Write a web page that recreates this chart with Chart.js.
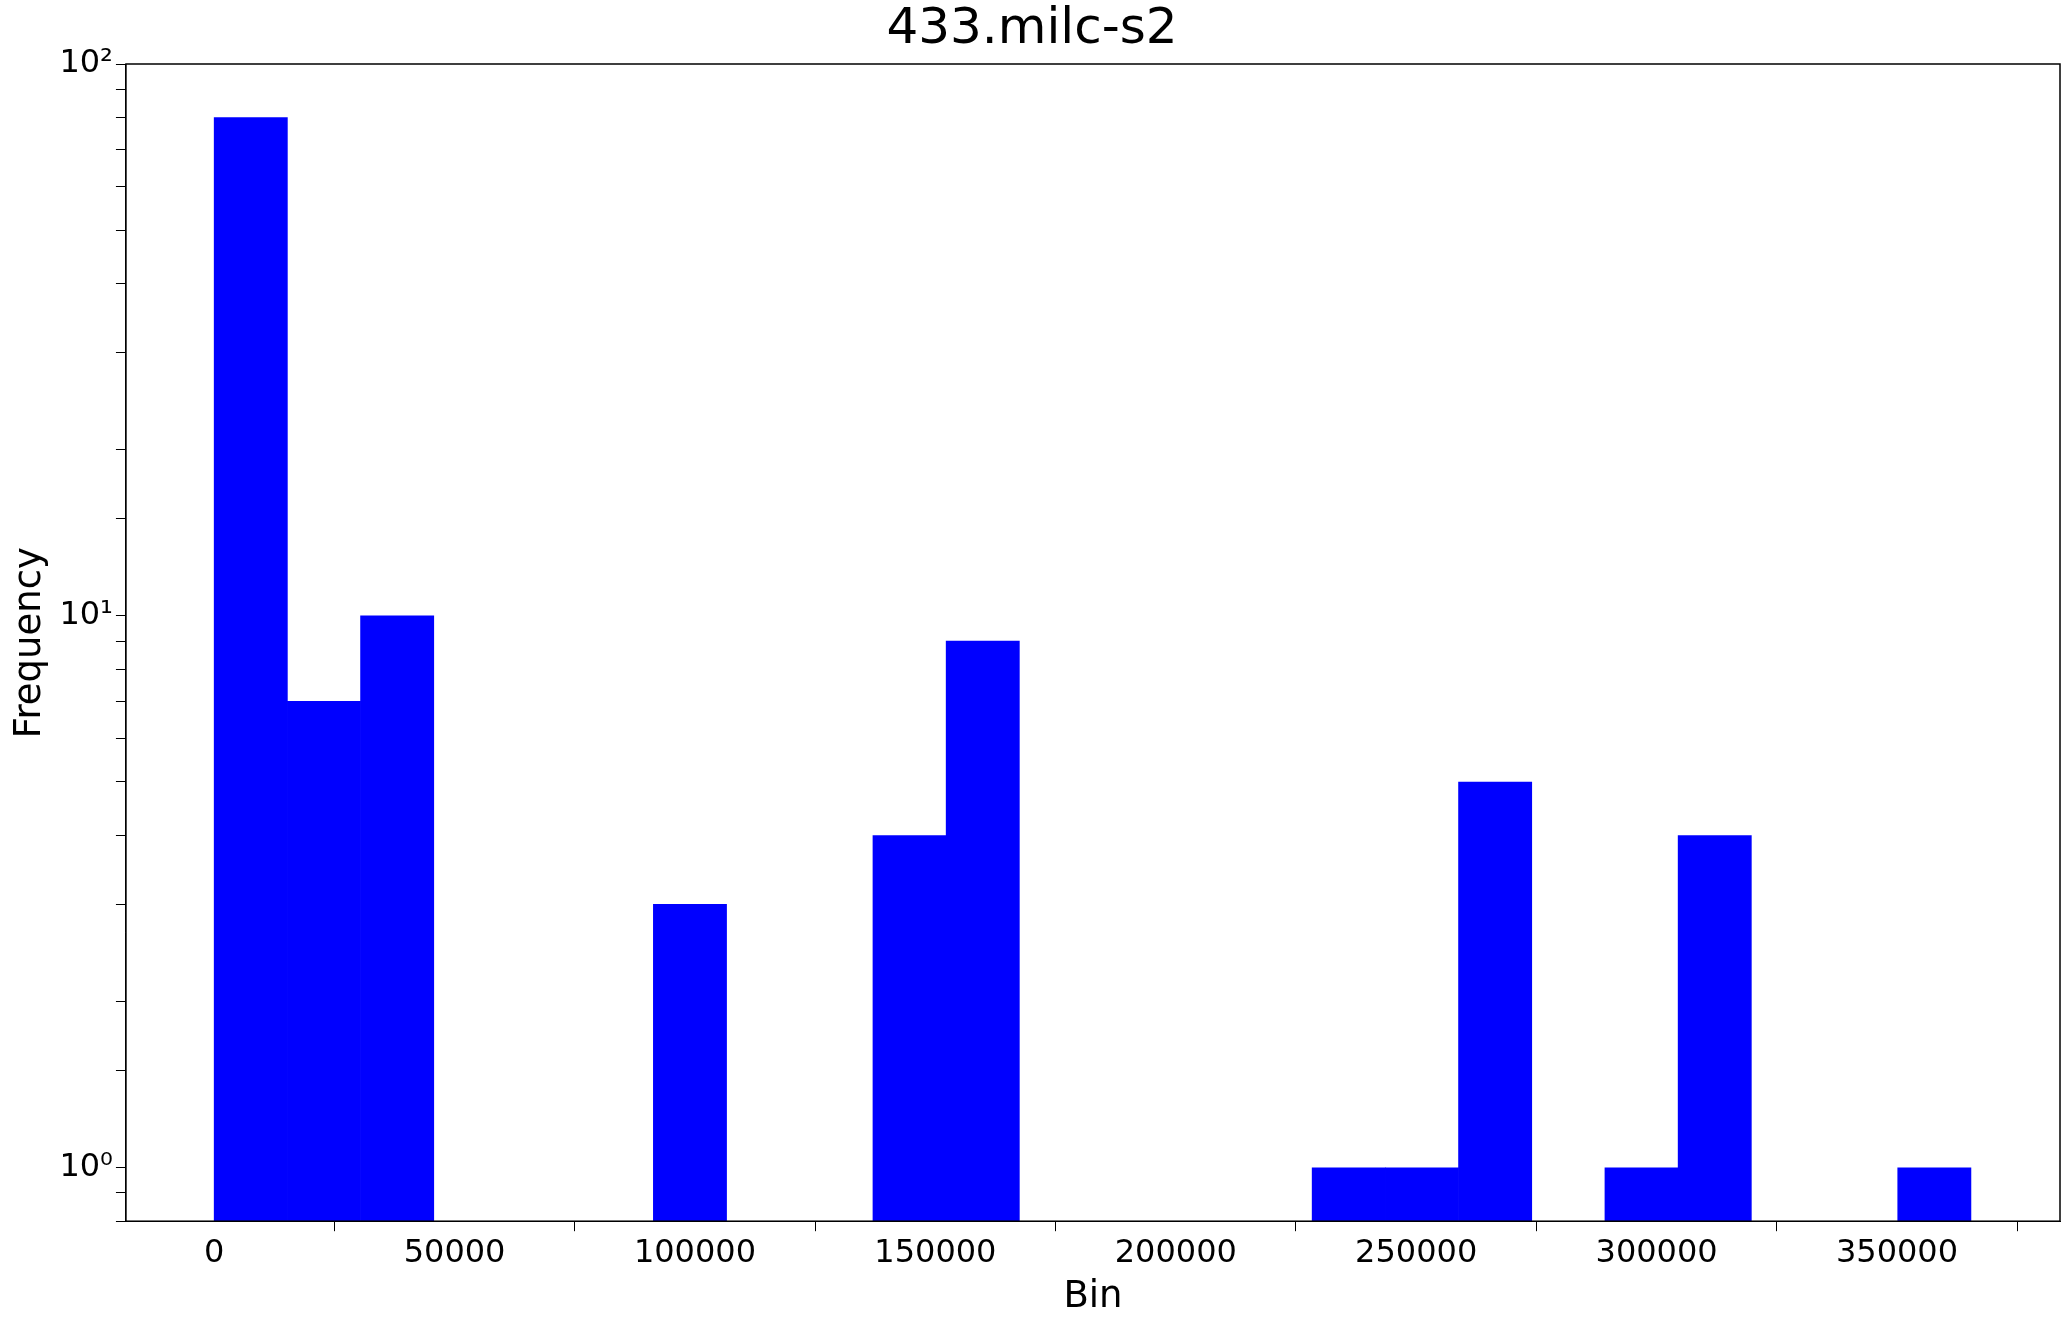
<!DOCTYPE html>
<html>
<head>
<meta charset="utf-8">
<script src="https://cdn.jsdelivr.net/npm/chart.js@4/dist/chart.umd.min.js"></script>
<style>
  html, body { margin: 0; padding: 0; background: #fff; }
  #wrap { width: 2068px; height: 1324px; }
</style>
</head>
<body>
<div id="wrap"><canvas id="hist"></canvas></div>
<script>
const BIN_WIDTH = 15224
// counts per bin, null = empty bin
const binCounts = [80, 7, 10, null, null, null, 3, null, null, 4, 9, null,
                   null, null, null, 1, 1, 5, null, 1, 4, null, null, 1]
const xTicks = [0, 50000, 100000, 150000, 200000, 250000, 300000, 350000]
const supers = { 0: '10\u2070', 1: '10\u00b9', 2: '10\u00b2' }

const points = binCounts.map((c, i) => ({ x: (i + 0.5) * BIN_WIDTH, y: c }))

const frame = {
  id: 'frame',
  afterDraw(chart) {
    const { ctx, chartArea: a } = chart
    ctx.save()
    ctx.strokeStyle = '#000'
    ctx.lineWidth = 1.5
    ctx.strokeRect(a.left, a.top, a.right - a.left, a.bottom - a.top)
    ctx.restore()
  }
}

Chart.defaults.font.family = "'DejaVu Sans', sans-serif"
Chart.defaults.color = '#000'

new Chart(document.getElementById('hist'), {
  type: 'bar',
  data: {
    datasets: [{
      data: points,
      backgroundColor: '#0000ff',
      borderWidth: 0,
      barPercentage: 1,
      categoryPercentage: 1,
    }]
  },
  options: {
    responsive: true,
    maintainAspectRatio: false,
    animation: false,
    layout: { padding: { right: 8, top: 0, left: 4 } },
    plugins: {
      legend: { display: false },
      tooltip: { enabled: false },
      title: {
        display: true,
        text: '433.milc-s2',
        font: { size: 50, weight: 'normal' },
        padding: { top: 0, bottom: 4 }
      }
    },
    scales: {
      x: {
        type: 'linear',
        min: -18350,
        max: 383900,
        offset: false,
        afterBuildTicks: s => { s.ticks = xTicks.map(v => ({ value: v })) },
        ticks: { font: { size: 32 }, callback: v => String(v), maxRotation: 0 },
        grid: { drawOnChartArea: false, color: '#000', tickLength: 10 },
        border: { color: '#000' },
        title: { display: true, text: 'Bin', font: { size: 37 }, padding: { top: 0 } }
      },
      y: {
        type: 'logarithmic',
        min: 0.8,
        max: 100,
        ticks: {
          font: { size: 32 },
          autoSkip: false,
          callback: v => {
            const l = Math.log10(v)
            return Math.abs(l - Math.round(l)) < 1e-9 ? supers[Math.round(l)] : ''
          }
        },
        grid: { drawOnChartArea: false, color: '#000', tickLength: 10 },
        border: { color: '#000' },
        title: { display: true, text: 'Frequency', font: { size: 37 }, padding: { bottom: 4 } }
      }
    }
  },
  plugins: [frame]
})
</script>
</body>
</html>
